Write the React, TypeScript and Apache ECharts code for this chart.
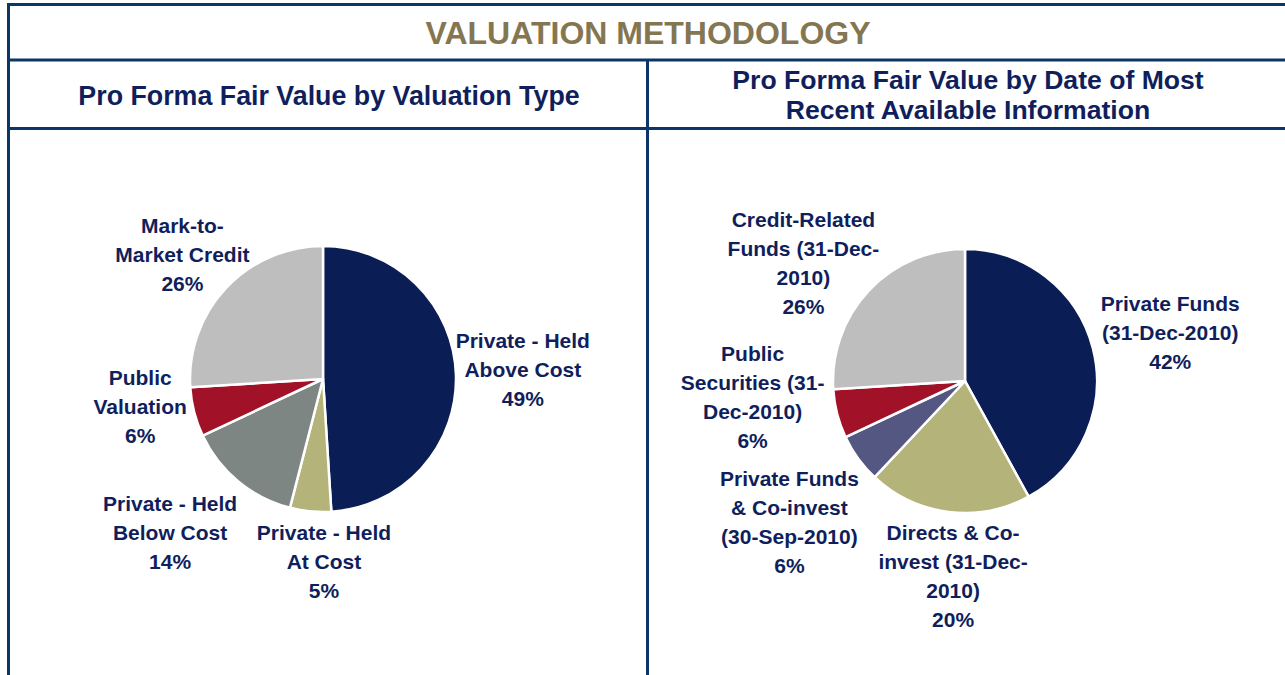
import React, { useEffect, useRef } from "react";
import * as echarts from "echarts";

// ---- Data ----
const leftNames = [
  "Private - Held\nAbove Cost",
  "Private - Held\nAt Cost",
  "Private - Held\nBelow Cost",
  "Public\nValuation",
  "Mark-to-\nMarket Credit",
];
const leftValues = [49, 5, 14, 6, 26];

const rightNames = [
  "Private Funds\n(31-Dec-2010)",
  "Directs & Co-\ninvest (31-Dec-\n2010)",
  "Private Funds\n& Co-invest\n(30-Sep-2010)",
  "Public\nSecurities (31-\nDec-2010)",
  "Credit-Related\nFunds (31-Dec-\n2010)",
];
const rightValues = [42, 20, 6, 6, 26];

const mainTitle = "VALUATION METHODOLOGY";
const leftTitle = "Pro Forma Fair Value by Valuation Type";
const rightTitle = "Pro Forma Fair Value by Date of Most\nRecent Available Information";

// ---- Styles / layout ----
const leftColors = ["#0A1E55", "#B3B37A", "#7E8683", "#A11228", "#BEBEBE"];
const rightColors = ["#0A1E55", "#B3B37A", "#545781", "#A11228", "#BEBEBE"];
const NAVY = "#101F5C";
const BORDER = "#0B3667";
const GOLD = "#857652";
const FONT = "'Liberation Sans', Arial, sans-serif";

const leftCenter = [323, 379];
const rightCenter = [965, 381];
const leftRadius = 133;
const rightRadius = 132;
// label placement: distance from centre (px) and angular shift (deg) from slice mid-angle
const leftLabelDist = [200, 183, 217, 185, 188];
const leftLabelShift = [-0.8, -5.7, 5.2, 5.7, -1.6];
const rightLabelDist = [211, 195, 225, 213, 200];
const rightLabelShift = [1.0, -3.7, -2.7, 10.1, -7.1];

function midAngles(values: number[]) {
  const total = values.reduce((a, b) => a + b, 0);
  let acc = 0;
  return values.map((v) => {
    const m = ((acc + v / 2) / total) * 360;
    acc += v;
    return m;
  });
}

function makePie(
  names: string[],
  values: number[],
  colors: string[],
  center: number[],
  radius: number,
  dist: number[],
  shift: number[]
) {
  const mids = midAngles(values);
  return {
    type: "pie",
    center,
    radius,
    startAngle: 90,
    clockwise: true,
    avoidLabelOverlap: false,
    itemStyle: { borderColor: "#ffffff", borderWidth: 2.5 },
    label: {
      show: true,
      position: "outside",
      formatter: (p: any) => `${p.name}\n${p.value}%`,
      color: NAVY,
      fontFamily: FONT,
      fontWeight: "bold",
      fontSize: 21,
      lineHeight: 29,
      align: "center",
    },
    labelLine: { show: false },
    labelLayout: (p: any) => {
      const i = p.dataIndex;
      const a = ((mids[i] + shift[i]) * Math.PI) / 180;
      return {
        x: center[0] + dist[i] * Math.sin(a),
        y: center[1] - dist[i] * Math.cos(a),
        align: "center",
        verticalAlign: "middle",
      };
    },
    emphasis: { disabled: true },
    data: names.map((n, i) => ({
      name: n,
      value: values[i],
      itemStyle: { color: colors[i] },
    })),
  };
}

export default function App() {
  const ref = useRef<HTMLDivElement>(null);

  useEffect(() => {
    if (!ref.current) return;
    const chart = echarts.init(ref.current, undefined, { renderer: "svg" });
    const line = (x1: number, y1: number, x2: number, y2: number) => ({
      type: "line",
      silent: true,
      shape: { x1, y1, x2, y2 },
      style: { stroke: BORDER, lineWidth: 3 },
    });
    chart.setOption({
      animation: false,
      backgroundColor: "#ffffff",
      graphic: [
        line(7, 4.5, 1285, 4.5),
        line(8.5, 3, 8.5, 675),
        line(7, 60, 1285, 60),
        line(7, 128.5, 1285, 128.5),
        line(647.5, 60, 647.5, 675),
        {
          type: "text",
          silent: true,
          style: {
            text: mainTitle,
            x: 648,
            y: 33,
            align: "center",
            verticalAlign: "middle",
            fill: GOLD,
            fontFamily: FONT,
            fontWeight: "bold",
            fontSize: 32,
          },
        },
        {
          type: "text",
          silent: true,
          style: {
            text: leftTitle,
            x: 329,
            y: 96,
            align: "center",
            verticalAlign: "middle",
            fill: NAVY,
            fontFamily: FONT,
            fontWeight: "bold",
            fontSize: 26.8,
          },
        },
        {
          type: "text",
          silent: true,
          style: {
            text: rightTitle,
            x: 968,
            y: 95,
            align: "center",
            verticalAlign: "middle",
            fill: NAVY,
            fontFamily: FONT,
            fontWeight: "bold",
            fontSize: 26.6,
            lineHeight: 30,
          },
        },
      ],
      series: [
        makePie(leftNames, leftValues, leftColors, leftCenter, leftRadius, leftLabelDist, leftLabelShift),
        makePie(rightNames, rightValues, rightColors, rightCenter, rightRadius, rightLabelDist, rightLabelShift),
      ],
    });
    return () => chart.dispose();
  }, []);

  return (
    <div
      ref={ref}
      style={{ position: "fixed", left: 0, top: 0, width: 1285, height: 675, background: "#fff" }}
    />
  );
}
